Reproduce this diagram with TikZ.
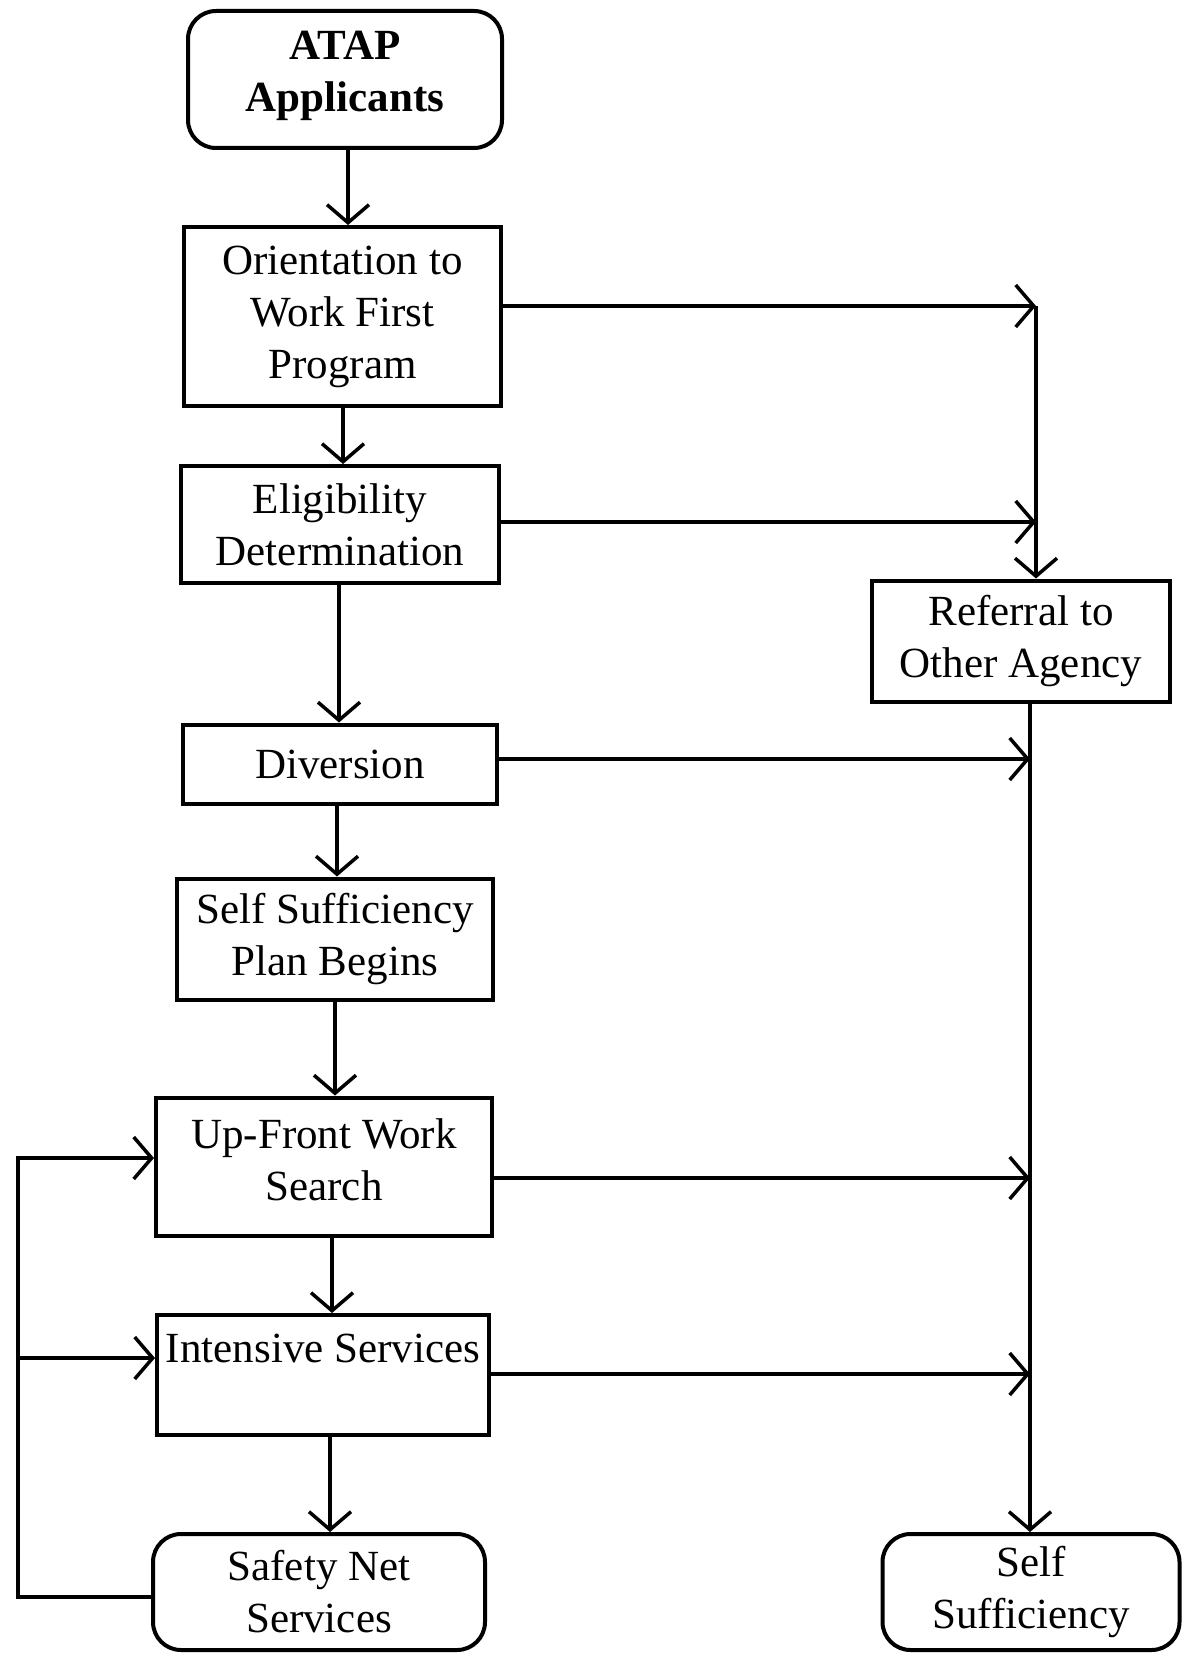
\documentclass[tikz,border=0pt]{standalone}
\usepackage{fontspec}
\setmainfont{Liberation Serif}
\usetikzlibrary{arrows.meta}
\tikzset{
  box/.style={draw, line width=4pt, inner sep=0pt, align=center, font=\fontsize{43}{52}\selectfont},
  rbox/.style={box, rounded corners=28pt},
  tlab/.style={align=center, inner sep=0pt, font=\fontsize{43}{52}\selectfont},
  arr/.style={line width=3.5pt, -{Straight Barb[length=18pt,width=42pt,line width=3.5pt]}}
}
\begin{document}
\begin{tikzpicture}[x=1pt,y=-1pt]
\useasboundingbox (0,0) rectangle (1184,1653);
\node[rbox, minimum width=314pt, minimum height=137pt, label={[tlab, font=\fontsize{43}{52}\selectfont\bfseries, yshift=4pt]center:ATAP\\Applicants}] (atap) at (345,79.5) {};
\node[box, minimum width=317pt, minimum height=179pt] (orient) at (342.5,316.5) {Orientation to\\Work First\\Program};
\node[box, minimum width=318pt, minimum height=117pt] (elig) at (340,524.5) {Eligibility\\Determination};
\node[box, minimum width=298pt, minimum height=121pt] (ref) at (1021,641) {Referral to\\Other Agency};
\node[box, minimum width=314pt, minimum height=79pt] (div) at (340,764) {Diversion};
\node[box, minimum width=316pt, minimum height=121pt] (ssp) at (335,939) {Self Sufficiency\\Plan Begins};
\node[box, minimum width=336pt, minimum height=138pt, label={[tlab, yshift=7pt]center:Up-Front Work\\Search}] (up) at (324,1166.5) {};
\node[box, minimum width=332pt, minimum height=120pt, label={[tlab, yshift=27pt]center:Intensive Services}] (int) at (323,1375) {};
\node[rbox, minimum width=332pt, minimum height=116pt] (safe) at (319,1592) {Safety Net\\Services};
\node[rbox, minimum width=297pt, minimum height=116pt] (self) at (1031,1592) {Self\\Sufficiency};

% vertical main flow
\coordinate (c1) at (348,0);
\coordinate (c2) at (343,0);
\coordinate (c3) at (339,0);
\coordinate (c4) at (337,0);
\coordinate (c5) at (335,0);
\coordinate (c6) at (332,0);
\coordinate (c7) at (330,0);
\draw[arr] (atap.south -| c1) -- (orient.north -| c1);
\draw[arr] (orient.south -| c2) -- (elig.north -| c2);
\draw[arr] (elig.south -| c3) -- (div.north -| c3);
\draw[arr] (div.south -| c4) -- (ssp.north -| c4);
\draw[arr] (ssp.south -| c5) -- (up.north -| c5);
\draw[arr] (up.south -| c6) -- (int.north -| c6);
\draw[arr] (int.south -| c7) -- (safe.north -| c7);

% right side
\coordinate (xR) at (1036,0);
\coordinate (xS) at (1030,0);
\coordinate (jt) at (1036,306);
\coordinate (yE) at (0,522);
\coordinate (yD) at (0,759);
\coordinate (yU) at (0,1178);
\coordinate (yI) at (0,1374);
\draw[arr] (orient.east |- jt) -- (jt);
\draw[arr] (elig.east |- yE) -- (xR |- yE);
\draw[arr] (jt) -- (ref.north -| xR);
\draw[arr] (ref.south -| xS) -- (self.north -| xS);
\draw[arr] (div.east |- yD) -- (xS |- yD);
\draw[arr] (up.east |- yU) -- (xS |- yU);
\draw[arr] (int.east |- yI) -- (xS |- yI);

% left loop
\coordinate (L1) at (18,1597);
\coordinate (L2) at (18,1158);
\coordinate (L3) at (18,1358);
\draw[arr, line join=miter] (safe.west |- L1) -- (L1) -- (L2) -- (up.west |- L2);
\draw[arr] (L3) -- (int.west |- L3);
\end{tikzpicture}
\end{document}
